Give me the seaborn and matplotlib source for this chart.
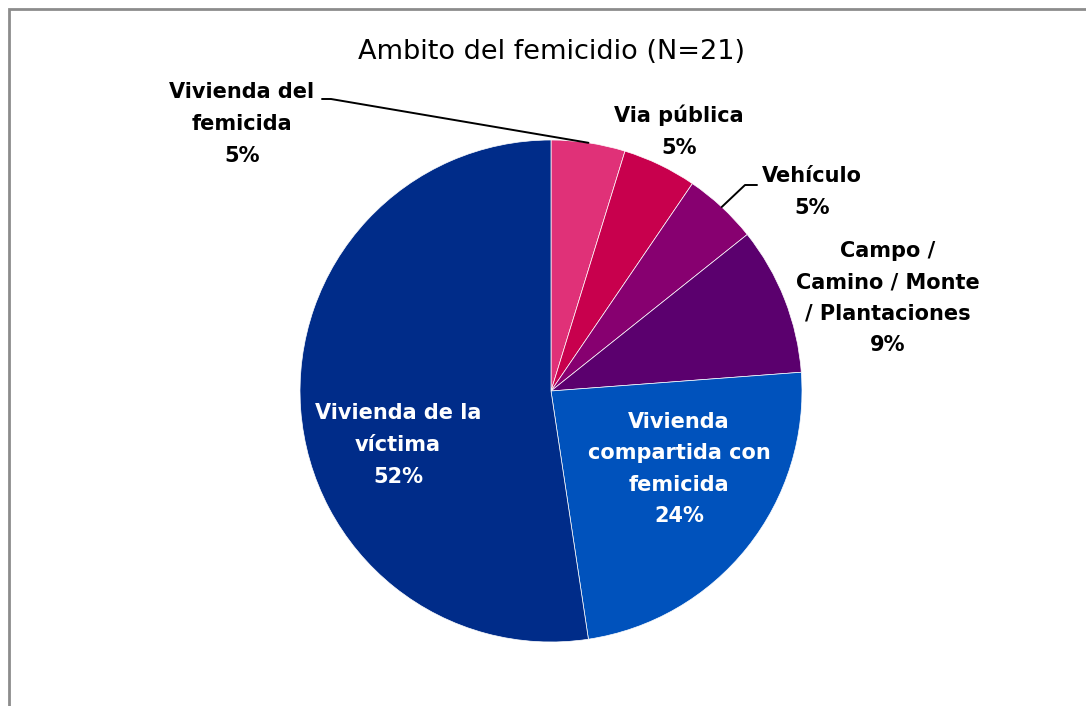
import numpy as np
import matplotlib
matplotlib.use("Agg")
import matplotlib.pyplot as plt
import seaborn as sns
from matplotlib.patches import Rectangle

# data
categories = ["Vivienda del\nfemicida", "Via pública", "Vehículo",
              "Campo /\nCamino / Monte\n/ Plantaciones",
              "Vivienda\ncompartida con\nfemicida", "Vivienda de la\nvíctima"]
counts = [1, 1, 1, 2, 5, 11]
pct_labels = ["5%", "5%", "5%", "9%", "24%", "52%"]
colors = ["#E03178", "#C8004D", "#870070", "#5B006E", "#0052BC", "#002C89"]

sns.set_style("white")
plt.rcParams['font.family'] = ['DejaVu Sans']

W, H = 1086, 706
fig = plt.figure(figsize=(W / 100, H / 100), dpi=100)
fig.patch.set_facecolor("white")

# outer frame (cut off at right/bottom like the original)
fig.patches.append(Rectangle((9 / W, -0.1), 1.2, 1 - 9 / H + 0.1, transform=fig.transFigure,
                             fill=False, edgecolor="#8c8c8c", linewidth=2))

cx, cy, r = 551, 391, 251
ax = fig.add_axes([(cx - r) / W, (H - cy - r) / H, 2 * r / W, 2 * r / H])
wedges, _ = ax.pie(counts, colors=colors, startangle=90, counterclock=False,
                   radius=1, wedgeprops=dict(linewidth=0.5, edgecolor="white"))
ax.set_xlim(-1, 1)
ax.set_ylim(-1, 1)
ax.set_aspect("equal")
ax.axis("off")

def px(x, y):
    return ((x - cx) / r, (cy - y) / r)

# label centres in pixel space
label_pos = [(242, 124), (679, 131), (812, 192), (888, 298), (679, 469), (398, 445)]
text_col = ["black", "black", "black", "black", "white", "white"]
for cat, pct, pos, col in zip(categories, pct_labels, label_pos, text_col):
    x, y = px(*pos)
    ax.text(x, y, cat + "\n" + pct, ha="center", va="center", fontsize=15,
            fontweight="bold", color=col, linespacing=1.72, clip_on=False)

# leader lines
def mid_edge(w):
    a = np.deg2rad((w.theta1 + w.theta2) / 2)
    return np.cos(a), np.sin(a)

ex, ey = mid_edge(wedges[0])
p1, p2 = px(322, 99), px(331, 99)
ax.plot([p1[0], p2[0], ex], [p1[1], p2[1], ey], color="black", lw=1.4, clip_on=False)
ex, ey = mid_edge(wedges[2])
p1, p2 = px(757, 185), px(745, 185)
ax.plot([p1[0], p2[0], ex], [p1[1], p2[1], ey], color="black", lw=1.4, clip_on=False)

fig.text(551 / W, 1 - 52 / H, "Ambito del femicidio (N=21)", ha="center", va="center",
         fontsize=19.5, color="black")

fig.savefig("out.png", dpi=100, facecolor="white")
